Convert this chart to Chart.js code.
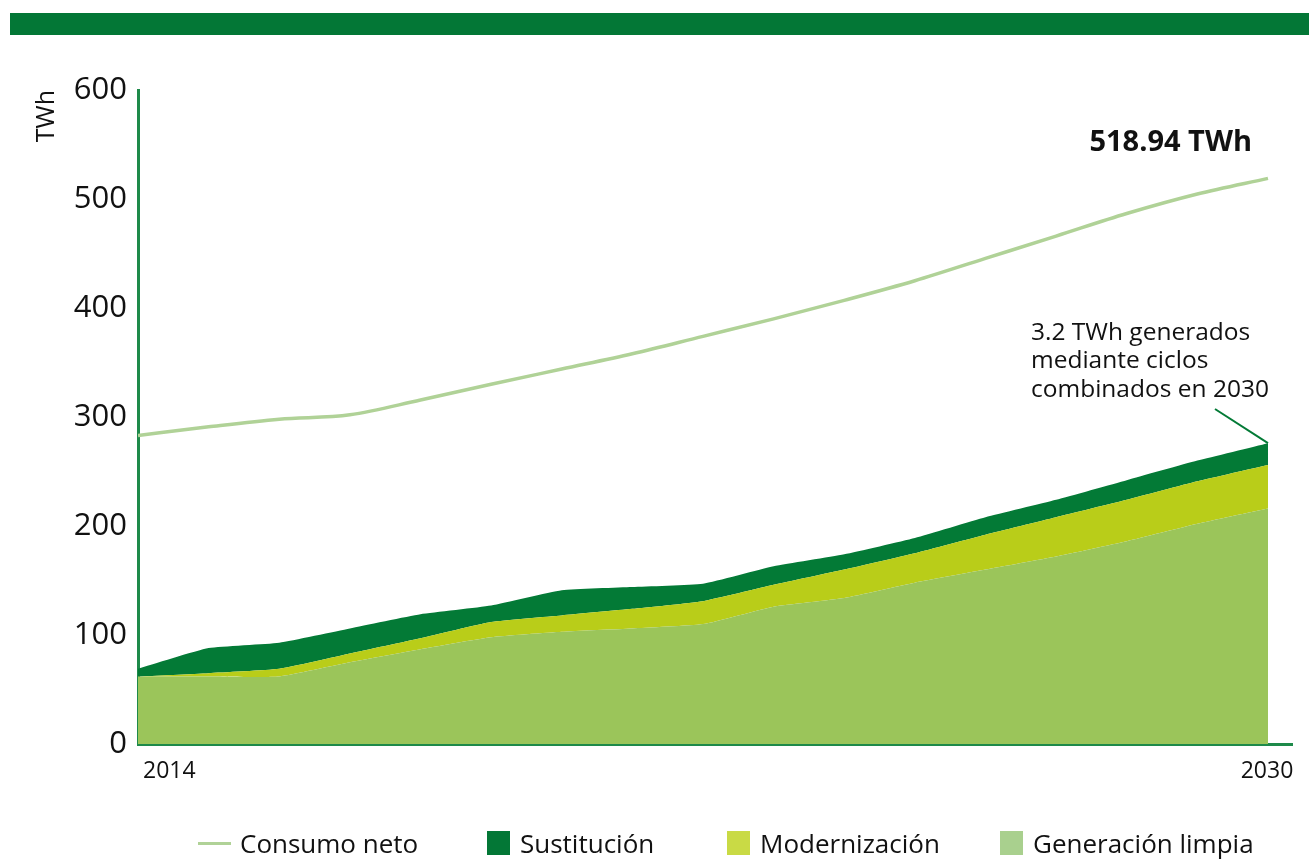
<!DOCTYPE html>
<html lang="es">
<head>
<meta charset="utf-8">
<title>Consumo neto y generación limpia 2014–2030</title>
<script src="https://cdn.jsdelivr.net/npm/chart.js@4.4.1/dist/chart.umd.min.js"></script>
<style>
  html, body { margin: 0; padding: 0; background: #ffffff; }
  body { width: 1309px; height: 862px; position: relative; overflow: hidden; font-family: "Open Sans", "Noto Sans", sans-serif; }
  #topbar { position: absolute; left: 10px; top: 13px; width: 1299px; height: 22px; background: #037736; }
  #wrap { position: absolute; left: 0; top: 0; width: 1309px; height: 862px; }
  #legend { position: absolute; top: 826px; left: 0; width: 1309px; height: 34px; font-size: 26px; color: #111; }
  .item { position: absolute; top: 0; display: flex; align-items: center; height: 34px; white-space: nowrap; }
  .sw { display: inline-block; width: 23px; height: 24px; margin-right: 10px; }
  .sw.line { width: 33px; height: 3px; margin-right: 9px; }
</style>
</head>
<body>
<div id="topbar"></div>
<div id="wrap"><canvas id="c" width="1309" height="862"></canvas></div>
<div id="legend"></div>
<script>
// Years on the horizontal axis
const years = [2014, 2015, 2016, 2017, 2018, 2019, 2020, 2021, 2022, 2023, 2024, 2025, 2026, 2027, 2028, 2029, 2030];

// Net consumption (TWh)
const consumoNeto = [283, 291, 298, 302, 315.6, 330, 344, 358, 374, 390, 407, 425, 445.5, 466, 486.7, 504.6, 518.94];

// Stacked contributions (TWh), bottom to top
const generacionLimpia = [62, 62, 62, 75, 87, 98, 103, 106, 110, 126, 134, 148, 160, 172, 186, 202, 216];
const modernizacion    = [0, 3, 7, 8, 10, 14, 15, 18, 21, 20, 26, 27, 32, 36, 38, 39, 40];
const sustitucion      = [7, 23, 24, 23, 22, 15, 23, 20, 16, 17, 14, 14, 16, 16, 18, 19, 20];

// Axis ticks and labels
const yTicks = [0, 100, 200, 300, 400, 500, 600];
const xLabels = [2014, 2030];

const seriesNames = ['Consumo neto', 'Sustitución', 'Modernización', 'Generación limpia'];

const COLORS = {
  consumo: '#B0D297',
  sustitucion: '#037A36',
  modernizacion: '#B9CD19',
  limpia: '#9BC55A',
  axis: '#1E8A4A',
  text: '#111111'
};

const pts = arr => years.map((y, i) => ({ x: y, y: arr[i] }));

// Draws the year labels and the text annotations
const annotations = {
  id: 'annotations',
  afterDraw(chart) {
    const ctx = chart.ctx;
    const xs = chart.scales.x, ys = chart.scales.y;
    ctx.save();
    ctx.fillStyle = COLORS.text;
    ctx.textBaseline = 'middle';

    // year labels
    ctx.font = '23px "Open Sans", sans-serif';
    ctx.textAlign = 'left';
    ctx.fillText(String(xLabels[0]), xs.getPixelForValue(xLabels[0]) + 5, 771);
    ctx.textAlign = 'center';
    ctx.fillText(String(xLabels[1]), xs.getPixelForValue(xLabels[1]) - 1, 771);

    // final consumption value
    const last = consumoNeto.length - 1;
    ctx.font = 'bold 29px "Open Sans", sans-serif';
    ctx.textAlign = 'right';
    ctx.fillText(consumoNeto[last].toFixed(2) + ' TWh', 1252, 143);

    // combined-cycle note with leader line to the top of the stack
    ctx.font = '24.5px "Open Sans", sans-serif';
    ctx.textAlign = 'left';
    const lines = ['3.2 TWh generados', 'mediante ciclos', 'combinados en 2030'];
    lines.forEach((t, i) => ctx.fillText(t, 1031, 333 + i * 28.5));

    const topVal = generacionLimpia[last] + modernizacion[last] + sustitucion[last];
    const ex = xs.getPixelForValue(years[last]);
    const ey = ys.getPixelForValue(topVal);
    ctx.strokeStyle = COLORS.sustitucion;
    ctx.lineWidth = 2;
    ctx.beginPath();
    ctx.moveTo(1215, 409);
    ctx.lineTo(ex, ey);
    ctx.stroke();
    ctx.restore();
  }
};

const areaBase = { pointRadius: 0, borderWidth: 0, tension: 0.15, stack: 'aportes' };

new Chart(document.getElementById('c'), {
  type: 'line',
  data: {
    datasets: [
      { ...areaBase, label: seriesNames[3], data: pts(generacionLimpia), backgroundColor: COLORS.limpia, borderColor: COLORS.limpia, fill: 'origin' },
      { ...areaBase, label: seriesNames[2], data: pts(modernizacion), backgroundColor: COLORS.modernizacion, borderColor: COLORS.modernizacion, fill: '-1' },
      { ...areaBase, label: seriesNames[1], data: pts(sustitucion), backgroundColor: COLORS.sustitucion, borderColor: COLORS.sustitucion, fill: '-1' },
      { label: seriesNames[0], data: pts(consumoNeto), stack: 'consumo', borderColor: COLORS.consumo, borderWidth: 3.5, pointRadius: 0, cubicInterpolationMode: 'monotone', fill: false }
    ]
  },
  options: {
    responsive: false,
    animation: false,
    layout: { padding: { top: 90, right: 17, bottom: 88, left: 0 } },
    plugins: { legend: { display: false }, tooltip: { enabled: false } },
    scales: {
      x: {
        type: 'linear',
        min: 2014,
        max: 2030.34,
        grid: { display: false, drawTicks: false },
        border: { display: true, color: COLORS.axis, width: 3 },
        ticks: { display: false },
        afterFit(scale) { scale.height = 30; }
      },
      y: {
        stacked: true,
        min: 0,
        max: 600,
        grid: { display: false, drawTicks: false },
        border: { display: true, color: COLORS.axis, width: 3 },
        afterBuildTicks(scale) { scale.ticks = yTicks.map(v => ({ value: v })); },
        afterFit(scale) { scale.width = 138; },
        ticks: {
          padding: 11,
          color: COLORS.text,
          font: { family: '"Open Sans", sans-serif', size: 31 }
        },
        title: {
          display: true,
          text: 'TWh',
          align: 'end',
          color: COLORS.text,
          font: { family: '"Open Sans", sans-serif', size: 25 },
          padding: { top: 32, bottom: 0 }
        }
      }
    }
  },
  plugins: [annotations]
});

// Legend
const legendItems = [
  { name: seriesNames[0], color: COLORS.consumo, line: true, left: 198 },
  { name: seriesNames[1], color: '#037736', left: 487 },
  { name: seriesNames[2], color: '#C9DA45', left: 727 },
  { name: seriesNames[3], color: '#A9D08E', left: 1000 }
];
const legend = document.getElementById('legend');
legendItems.forEach(it => {
  const d = document.createElement('div');
  d.className = 'item';
  d.style.left = it.left + 'px';
  const s = document.createElement('span');
  s.className = 'sw' + (it.line ? ' line' : '');
  s.style.background = it.color;
  d.appendChild(s);
  d.appendChild(document.createTextNode(it.name));
  legend.appendChild(d);
});
</script>
</body>
</html>
